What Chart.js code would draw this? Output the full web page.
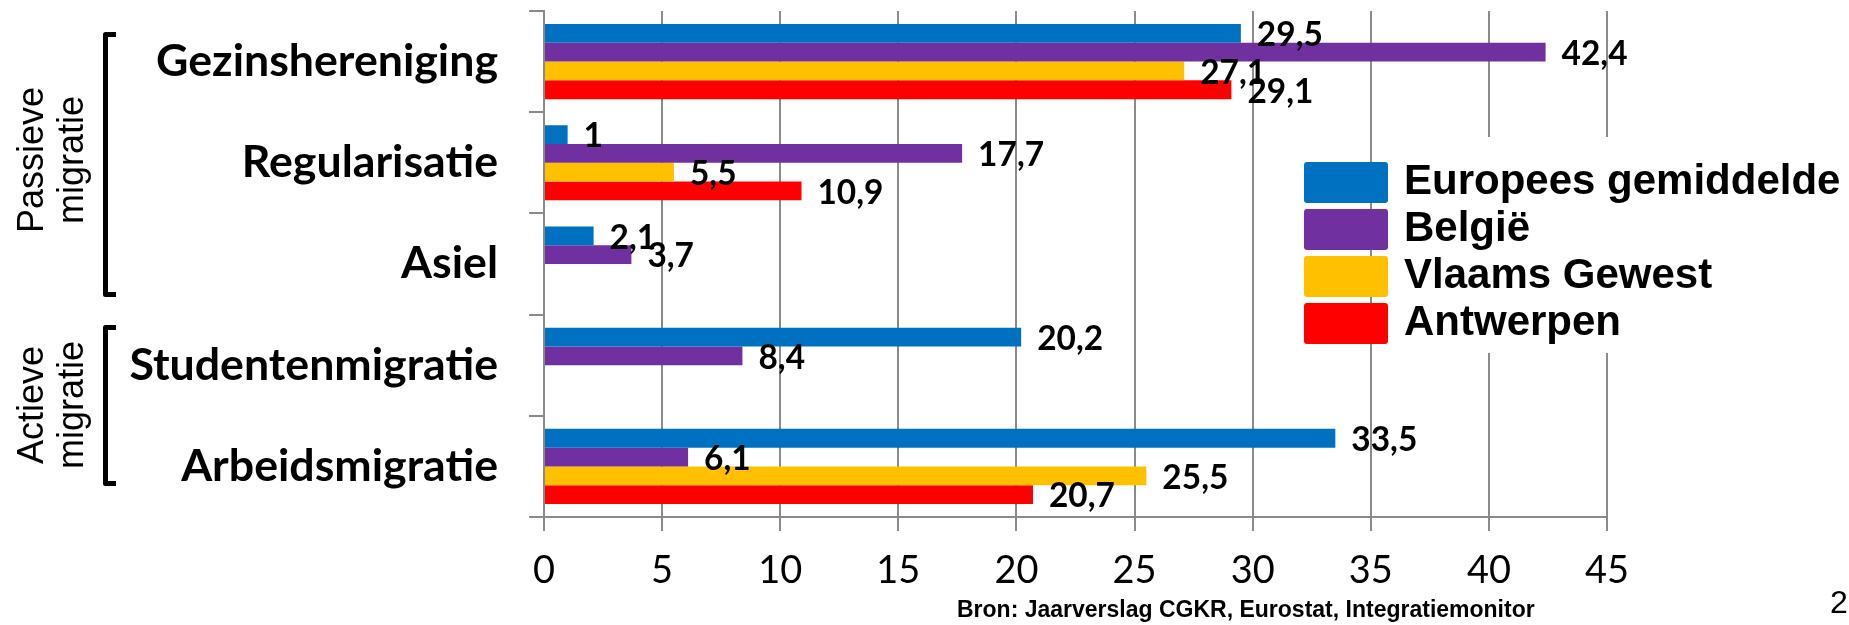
<!DOCTYPE html>
<html><head><meta charset="utf-8">
<script src="https://cdn.jsdelivr.net/npm/chart.js@4.4.0/dist/chart.umd.min.js"></script>
<style>html,body{margin:0;padding:0;background:#fff;overflow:hidden}canvas{display:block}</style>
</head><body>
<canvas id="c" width="1849" height="625"></canvas>
<script>
// ---- data ----
const categories = ['Gezinshereniging','Regularisatie','Asiel','Studentenmigratie','Arbeidsmigratie'];
const seriesNames = ['Europees gemiddelde','België','Vlaams Gewest','Antwerpen'];
const europees  = [29.5, 1, 2.1, 20.2, 33.5];
const belgie    = [42.4, 17.7, 3.7, 8.4, 6.1];
const vlaams    = [27.1, 5.5, null, null, 25.5];
const antwerpen = [29.1, 10.9, null, null, 20.7];
const xTickValues = [0,5,10,15,20,25,30,35,40,45];
const groupLabels = [['Passieve','migratie'],['Actieve','migratie']];
const sourceText = 'Bron: Jaarverslag CGKR, Eurostat, Integratiemonitor';
const pageText = '2';

// ---- styles ----
const colors = ['#0070C0','#7030A0','#FFC000','#FF0000'];
const gridColor = '#8a8a8a';
const mctx = document.createElement('canvas').getContext('2d');
function fit(weight, family, text, target){ mctx.font = weight+' 100px '+family; return 100*target/mctx.measureText(text).width; }
const catSize = (fit('bold','Lato','Gezinshereniging',339)+fit('bold','Lato','Studentenmigratie',372))/2;
const valSize = fit('bold','Lato','33,5',66);
const tickSize = fit('normal','Lato','45',44);

const decor = {
  brackets: [{x:103, top:32, bottom:297}, {x:103, top:325, bottom:486}],
  groupText: [{cy:160, b1:43, b2:83}, {cy:405, b1:43, b2:83}],
  legend: {boxX:1304, boxW:84, boxH:41, tops:[162,209,256,303], textX:1404, bg:[1392,137,457,216]},
};

const datasets = [europees, belgie, vlaams, antwerpen].map((d,i)=>({
  label: seriesNames[i], data: d, backgroundColor: colors[i],
  categoryPercentage: 0.742, barPercentage: 1.0
}));

const decorPlugin = {
  id:'decor',
  afterDatasetsDraw(chart){
    const ctx = chart.ctx;
    ctx.save();
    ctx.fillStyle = '#000';
    ctx.font = 'bold '+valSize+'px Lato';
    ctx.textBaseline = 'middle';
    ctx.textAlign = 'left';
    chart.data.datasets.forEach((ds,di)=>{
      const meta = chart.getDatasetMeta(di);
      meta.data.forEach((el,i)=>{
        const v = ds.data[i];
        if (v === null || v === undefined) return;
        ctx.fillText(String(v).replace('.',','), el.x + 16, el.y + 2);
      });
    });
    ctx.restore();
  },
  afterDraw(chart){
    const ctx = chart.ctx;
    ctx.save();
    // legend
    const L = decor.legend;
    ctx.fillStyle = '#fff';
    ctx.fillRect(L.bg[0], L.bg[1], L.bg[2], L.bg[3]);
    chart.data.datasets.forEach((ds,i)=>{
      ctx.fillStyle = ds.backgroundColor;
      ctx.beginPath();
      ctx.roundRect(L.boxX, L.tops[i], L.boxW, L.boxH, 3);
      ctx.fill();
      ctx.fillStyle = '#000';
      ctx.font = 'bold 42px "Liberation Sans"';
      ctx.textBaseline = 'middle';
      ctx.textAlign = 'left';
      ctx.fillText(ds.label, L.textX, L.tops[i] + L.boxH/2);
    });
    // brackets
    ctx.strokeStyle = '#000';
    ctx.lineWidth = 5;
    ctx.lineJoin = 'round';
    ctx.lineCap = 'butt';
    decor.brackets.forEach(b=>{
      ctx.beginPath();
      ctx.moveTo(b.x+13, b.top+2.5);
      ctx.lineTo(b.x+2.5, b.top+2.5);
      ctx.lineTo(b.x+2.5, b.bottom-2.5);
      ctx.lineTo(b.x+13, b.bottom-2.5);
      ctx.stroke();
    });
    // rotated group texts
    ctx.fillStyle = '#000';
    ctx.font = '36px "Liberation Sans"';
    ctx.textAlign = 'center';
    ctx.textBaseline = 'alphabetic';
    groupLabels.forEach((lines,gi)=>{
      const g = decor.groupText[gi];
      [g.b1, g.b2].forEach((bx,li)=>{
        ctx.save();
        ctx.translate(bx, g.cy);
        ctx.rotate(-Math.PI/2);
        ctx.fillText(lines[li], 0, 0);
        ctx.restore();
      });
    });
    // source
    ctx.font = 'bold 23px "Liberation Sans"';
    ctx.textAlign = 'left';
    ctx.fillText(sourceText, 957, 617);
    ctx.font = '32px "Liberation Sans"';
    ctx.fillText(pageText, 1830, 613);
    ctx.restore();
  }
};

new Chart(document.getElementById('c'), {
  type: 'bar',
  data: { labels: categories, datasets },
  options: {
    indexAxis: 'y',
    responsive: false,
    animation: false,
    devicePixelRatio: 1,
    layout: { padding: { top: 11, right: 242, bottom: 0, left: 0 } },
    plugins: { legend: { display: false }, tooltip: { enabled: false } },
    scales: {
      x: {
        type: 'linear', min: 0, max: 45,
        afterFit(s){ s.height = 108; s.paddingLeft = 0; s.paddingRight = 0; },
        afterBuildTicks(s){ s.ticks = xTickValues.map(v=>({value:v})); },
        grid: { color: gridColor, lineWidth: 2, tickLength: 14, drawTicks: true },
        border: { color: gridColor, width: 2 },
        ticks: { color: '#000', font: { family: 'Lato', size: tickSize, lineHeight: 1 }, padding: 40 - tickSize/2, callback: v => String(v) }
      },
      y: {
        type: 'category',
        afterFit(s){ s.width = 544; s.paddingTop = 0; s.paddingBottom = 0; },
        grid: { offset: true, drawOnChartArea: false, color: gridColor, lineWidth: 2, tickLength: 15 },
        border: { color: gridColor, width: 2 },
        ticks: { color: '#000', font: { family: 'Lato', weight: 'bold', size: catSize }, padding: 31 }
      }
    }
  },
  plugins: [decorPlugin]
});
</script>
</body></html>
